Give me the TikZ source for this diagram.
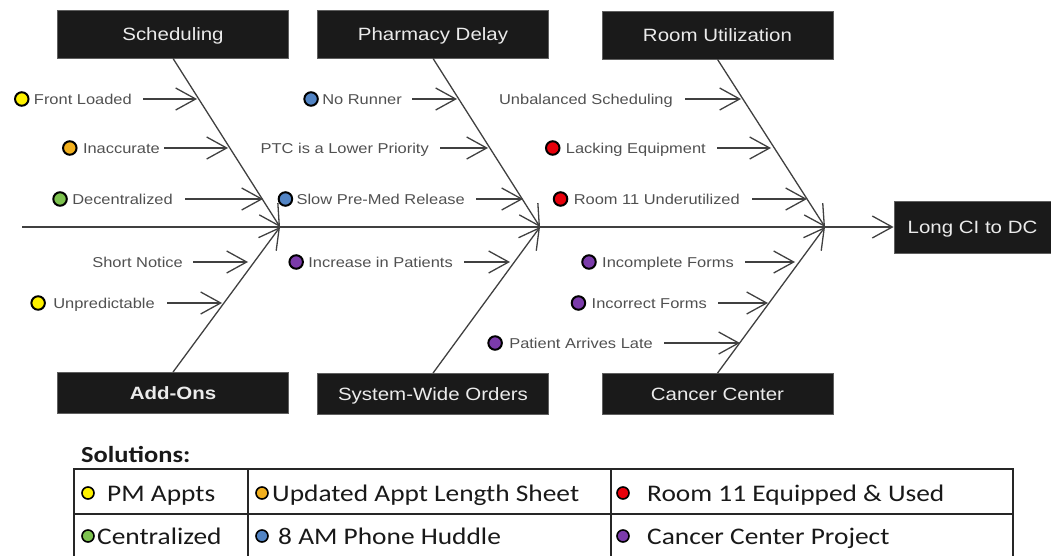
\documentclass[tikz,border=0pt]{standalone}
\usepackage{fontspec}
\setmainfont{Liberation Sans}[FakeStretch=1.15]
\newfontfamily\tabfont{Carlito}[FakeStretch=1.15]
\usetikzlibrary{arrows.meta,calc}
\definecolor{lncol}{HTML}{404040}
\definecolor{txtcol}{HTML}{505050}
\definecolor{boxcol}{HTML}{1A1A1A}
\definecolor{cyellow}{HTML}{FFF200}
\definecolor{corange}{HTML}{F2B01E}
\definecolor{cgreen}{HTML}{7DC24F}
\definecolor{cblue}{HTML}{5284C4}
\definecolor{cred}{HTML}{E8000B}
\definecolor{cpurple}{HTML}{7B3BAA}
\tikzset{
  catbox/.style={fill=boxcol, draw=boxcol!70, line width=0.8pt, text=white!92!black,
    minimum width=231pt, minimum height=48pt, inner sep=0pt,
    font=\fontsize{17.8}{20}\selectfont, text height=12.8pt, text depth=0pt},
  lowbox/.style={catbox, minimum height=41pt},
  bone/.style={draw=lncol, line width=1.3pt, -{Straight Barb[length=20pt,width=22pt]}},
  causearrow/.style={bone},
  causelbl/.style={anchor=base east, inner sep=0pt, text=txtcol, font=\fontsize{14.3}{17}\selectfont},
  dot/.style={circle, draw=black, line width=2pt, minimum size=13.5pt, inner sep=0pt},
  tabdot/.style={circle, draw=black, line width=1.6pt, minimum size=12pt, inner sep=0pt},
  tabtxt/.style={anchor=base west, inner sep=0pt, text=black!90, font=\tabfont\fontsize{23.8}{28}\selectfont},
  tabline/.style={draw=black!85, line width=1.3pt},
}
% name, text, right x, y, gap, tip x
\newcommand\fishcause[6]{%
  \node[causelbl] (#1) at (#3,#4+5.5) {#2};
  \coordinate (#1tip) at (#6,#4);
  \draw[causearrow] ($(#1.east |- #1tip)+(#5,0)$) -- (#1tip);
}
\newcommand\fishdot[3]{% name, colour, offset
  \node[dot, fill=#2] (#1dot) at ($(#1.west |- #1tip)+(-#3,0)$) {};
}
\begin{document}
\begin{tikzpicture}[x=1pt,y=-1pt]
\useasboundingbox (0,0) rectangle (1051,556);
% category boxes
\node[catbox] (sched) at (173,34) {Scheduling};
\node[catbox] (pharm) at (433,34) {Pharmacy Delay};
\node[catbox] (room)  at (717.5,35) {Room Utilization};
\node[lowbox, font=\bfseries\fontsize{17.8}{20}\selectfont] (addons) at (173,393) {Add-Ons};
\node[lowbox] (system) at (433,394) {System-Wide Orders};
\node[lowbox] (cancer) at (717.5,394) {Cancer Center};
\node[catbox, minimum width=157pt, minimum height=52pt] (longci) at (972.5,227) {Long CI to DC};
% spine and bones
\coordinate (tail) at (22,227);
\coordinate (j1) at (280,227);
\coordinate (j2) at (540,227);
\coordinate (j3) at (825,227);
\draw[bone] (tail) -- (longci.west);
\draw[bone] (sched.south) -- (j1);
\draw[bone] (addons.north) -- (j1);
\draw[bone] (pharm.south) -- (j2);
\draw[bone] (system.north) -- (j2);
\draw[bone] (room.south) -- (j3);
\draw[bone] (cancer.north) -- (j3);
% causes
\fishcause{c1}{Front Loaded}{132}{99}{11}{197}
\fishdot{c1}{cyellow}{12}
\fishcause{c2}{Inaccurate}{160}{148}{4}{228}
\fishdot{c2}{corange}{13}
\fishcause{c3}{Decentralized}{173}{199}{12}{263}
\fishdot{c3}{cgreen}{12}
\fishcause{c4}{Short Notice}{183}{262}{10}{248}
\fishcause{c5}{Unpredictable}{155}{303}{12}{222}
\fishdot{c5}{cyellow}{15}
\fishcause{c6}{No Runner}{402}{99}{10}{457}
\fishdot{c6}{cblue}{11}
\fishcause{c7}{PTC is a Lower Priority}{429}{148}{11}{488}
\fishcause{c8}{Slow Pre-Med Release}{465}{199}{11}{523}
\fishdot{c8}{cblue}{11}
\fishcause{c9}{Increase in Patients}{453}{262}{11}{510}
\fishdot{c9}{cpurple}{12}
\fishcause{c10}{Unbalanced Scheduling}{673}{99}{12}{741}
\fishcause{c11}{Lacking Equipment}{706}{148}{11}{771}
\fishdot{c11}{cred}{13}
\fishcause{c12}{Room 11 Underutilized}{740}{199}{12}{807}
\fishdot{c12}{cred}{13}
\fishcause{c13}{Incomplete Forms}{734}{262}{11}{795}
\fishdot{c13}{cpurple}{13}
\fishcause{c14}{Incorrect Forms}{707}{303}{11}{768}
\fishdot{c14}{cpurple}{13}
\fishcause{c15}{Patient Arrives Late}{653}{343}{11}{740}
\fishdot{c15}{cpurple}{14}
% solutions table
\node[anchor=base west, inner sep=0pt, text=black!90, font=\tabfont\bfseries\fontsize{23}{28}\selectfont] (soltitle) at (81,462) {Solutions:};
\draw[tabline] (74,558) -- (74,469) -- (1013,469) -- (1013,558);
\draw[tabline] (74,514) -- (1013,514);
\draw[tabline] (248,469) -- (248,558);
\draw[tabline] (611,469) -- (611,558);
\node[tabtxt] (s1) at (107,501) {PM Appts};
\node[tabdot, fill=cyellow] (s1dot) at (88,493) {};
\node[tabtxt] (s2) at (272,501) {Updated Appt Length Sheet};
\node[tabdot, fill=corange] (s2dot) at (262,493) {};
\node[tabtxt] (s3) at (647,501) {Room 11 Equipped \& Used};
\node[tabdot, fill=cred] (s3dot) at (623,493) {};
\node[tabtxt] (s4) at (97,544) {Centralized};
\node[tabdot, fill=cgreen] (s4dot) at (88,536) {};
\node[tabtxt] (s5) at (278,544) {8 AM Phone Huddle};
\node[tabdot, fill=cblue] (s5dot) at (262,536) {};
\node[tabtxt] (s6) at (647,544) {Cancer Center Project};
\node[tabdot, fill=cpurple] (s6dot) at (623,536) {};
\end{tikzpicture}
\end{document}
